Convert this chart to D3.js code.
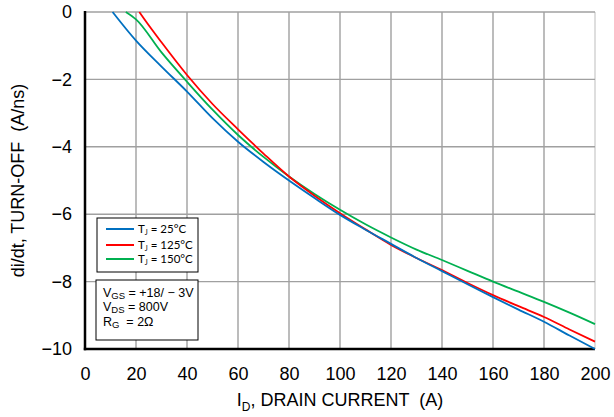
<!DOCTYPE html>
<html><head><meta charset="utf-8">
<script src="https://cdn.jsdelivr.net/npm/d3@7"></script>
<style>body{margin:0;background:#fff}svg{display:block}</style>
</head><body>
<svg id="c" width="614" height="417"></svg>
<script>
const xTicks = [0,20,40,60,80,100,120,140,160,180,200];
const yTicks = [0,-2,-4,-6,-8,-10];
const x25 = [10.8,20,30,40,50,60,70,80,90,100,110,120,130,140,150,160,170,180,190,200];
const y25 = [0,-0.85,-1.62,-2.36,-3.15,-3.85,-4.45,-5.0,-5.52,-6.02,-6.46,-6.88,-7.3,-7.69,-8.08,-8.46,-8.83,-9.19,-9.6,-10.0];
const x125 = [21.3,24,30,40,50,60,70,80,90,100,110,120,130,140,150,160,170,180,190,200];
const y125 = [0,-0.29,-0.9,-1.87,-2.73,-3.48,-4.2,-4.88,-5.45,-5.97,-6.45,-6.91,-7.3,-7.66,-8.04,-8.4,-8.73,-9.05,-9.42,-9.78];
const x150 = [16,20,30,40,50,60,70,80,90,100,110,120,130,140,150,160,170,180,190,200];
const y150 = [0,-0.22,-1.2,-2.07,-2.9,-3.65,-4.3,-4.88,-5.4,-5.87,-6.3,-6.69,-7.05,-7.36,-7.68,-8.0,-8.3,-8.6,-8.92,-9.26];
const seriesNames = ["25°C","125°C","150°C"];
const seriesColors = ["#0070C0","#FF0000","#00B050"];

const svg = d3.select("#c");
const L=85,R=595,T=12,B=349;
const x = d3.scaleLinear().domain([0,200]).range([L,R]);
const y = d3.scaleLinear().domain([-10,0]).range([B,T]);
const font = "Liberation Sans, Arial, Helvetica, sans-serif";

// grid
svg.append("g").selectAll("line").data(xTicks.slice(1)).join("line")
  .attr("x1",d=>x(d)).attr("x2",d=>x(d)).attr("y1",T).attr("y2",B)
  .attr("stroke",d=>d===200?"#d0d0d0":"#a0a0a0").attr("stroke-width",1.4);
svg.append("g").selectAll("line").data(yTicks.slice(0,-1)).join("line")
  .attr("x1",L).attr("x2",R).attr("y1",d=>y(d)).attr("y2",d=>y(d))
  .attr("stroke","#a0a0a0").attr("stroke-width",1.4);

// axes
const xa = svg.append("g").attr("transform",`translate(0,${B})`)
  .call(d3.axisBottom(x).tickValues(xTicks).tickSize(0).tickPadding(18));
const ya = svg.append("g").attr("transform",`translate(${L},0)`)
  .call(d3.axisLeft(y).tickValues(yTicks).tickSize(0).tickPadding(13));
[xa,ya].forEach(g=>{
  g.select(".domain").remove();
  g.selectAll("text").attr("font-family",font).attr("font-size",18).attr("fill","#000");
});
svg.append("line").attr("x1",L).attr("x2",L).attr("y1",T-1).attr("y2",B+1.2).attr("stroke","#000").attr("stroke-width",2.5);
svg.append("line").attr("x1",L-1.2).attr("x2",R).attr("y1",B).attr("y2",B).attr("stroke","#000").attr("stroke-width",2.5);

// curves
const line = d3.line().x(d=>x(d[0])).y(d=>y(d[1])).curve(d3.curveMonotoneX);
const data = [d3.zip(x25,y25), d3.zip(x125,y125), d3.zip(x150,y150)];
[2,1,0].forEach(i=>{
  svg.append("path").datum(data[i]).attr("d",line).attr("fill","none")
    .attr("stroke",seriesColors[i]).attr("stroke-width",1.8);
});

// titles
const xt = svg.append("text").attr("x",(L+R)/2).attr("y",405.5).attr("text-anchor","middle")
  .attr("font-family",font).attr("font-size",18).attr("xml:space","preserve");
xt.append("tspan").text("I");
xt.append("tspan").attr("dy",5).attr("font-size",12).text("D");
xt.append("tspan").attr("dy",-5).text(", DRAIN CURRENT  (A)");
svg.append("text").attr("transform",`translate(24,${(T+B)/2}) rotate(-90)`).attr("text-anchor","middle")
  .attr("font-family",font).attr("font-size",18).attr("xml:space","preserve").text("di/dt, TURN-OFF  (A/ns)");

// legend
const lg = svg.append("g");
lg.append("rect").attr("x",97).attr("y",218).attr("width",101).attr("height",54)
  .attr("fill","#fff").attr("stroke","#000").attr("stroke-width",1);
const lys=[229,245,259];
seriesNames.forEach((n,i)=>{
  lg.append("line").attr("x1",106).attr("x2",134).attr("y1",lys[i]).attr("y2",lys[i])
    .attr("stroke",seriesColors[i]).attr("stroke-width",2);
  const t = lg.append("text").attr("x",138).attr("y",lys[i]+4).attr("font-family","Lato, Carlito, sans-serif").attr("font-size",11.5);
  t.append("tspan").text("T");
  t.append("tspan").attr("dy",2).attr("font-size",7).text("J");
  t.append("tspan").attr("dy",-2).text(" = "+n);
});

// conditions box
const cb = svg.append("g");
cb.append("rect").attr("x",96).attr("y",280).attr("width",102).attr("height",60)
  .attr("fill","#fff").attr("stroke","#000").attr("stroke-width",1);
const conds = [["V","GS"," = +18/ − 3V"],["V","DS"," = 800V"],["R","G","  = 2Ω"]];
const cys=[297,311,326];
conds.forEach((c,i)=>{
  const t = cb.append("text").attr("x",103).attr("y",cys[i]).attr("font-family",font).attr("font-size",12.5).attr("xml:space","preserve");
  t.append("tspan").text(c[0]);
  t.append("tspan").attr("dy",2).attr("font-size",9.5).text(c[1]);
  t.append("tspan").attr("dy",-2).text(c[2]);
});
</script>
</body></html>
